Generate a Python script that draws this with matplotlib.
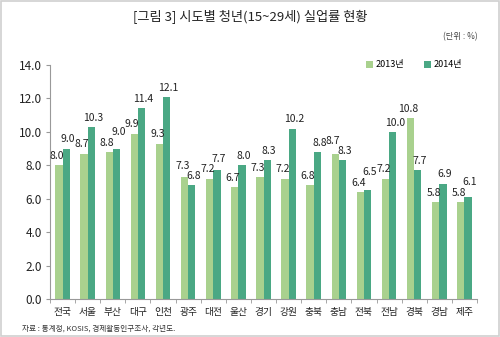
import matplotlib
matplotlib.use("Agg")
import matplotlib.pyplot as plt
import numpy as np
from matplotlib.patches import Rectangle

plt.rcParams['font.family'] = ['Noto Sans CJK KR', 'DejaVu Sans']

regions = ['전국', '서울', '부산', '대구', '인천', '광주', '대전', '울산', '경기',
           '강원', '충북', '충남', '전북', '전남', '경북', '경남', '제주']
v2013 = [8.0, 8.7, 8.8, 9.9, 9.3, 7.3, 7.2, 6.7, 7.3, 7.2, 6.8, 8.7, 6.4, 7.2, 10.8, 5.8, 5.8]
v2014 = [9.0, 10.3, 9.0, 11.4, 12.1, 6.8, 7.7, 8.0, 8.3, 10.2, 8.8, 8.3, 6.5, 10.0, 7.7, 6.9, 6.1]
series_names = ['2013년', '2014년']
yticks = [0, 2, 4, 6, 8, 10, 12, 14]

c1 = '#A9D18E'
c2 = '#4AA884'

fig = plt.figure(figsize=(5, 3.37), dpi=100)
fig.patch.set_facecolor('white')
fig.add_artist(Rectangle((0.002, 0.002), 0.996, 0.996, transform=fig.transFigure,
                         fill=False, edgecolor='#d0d0d0', linewidth=1.2))

ax = fig.add_axes([0.10, 0.113, 0.854, 0.694])
x = np.arange(len(regions))
w = 0.29
ax.bar(x - w/2, v2013, w, color=c1, label=series_names[0])
ax.bar(x + w/2, v2014, w, color=c2, label=series_names[1])

pad = 0.25
gap = 0.62
off = w/2 + 0.08
for xi, a, b in zip(x, v2013, v2014):
    ya, yb = a + pad, b + pad
    if abs(a - b) < gap:
        if b >= a:
            yb = max(yb, ya + gap)
        else:
            ya = max(ya, yb + gap)
    ax.text(xi - off, ya, f'{a:.1f}', ha='center', va='bottom', fontsize=7.5, color='#222222')
    ax.text(xi + off, yb, f'{b:.1f}', ha='center', va='bottom', fontsize=7.5, color='#222222')

ax.set_xlim(-0.5, len(regions) - 0.5)
ax.set_ylim(0, 14)
ax.set_yticks(yticks)
ax.set_yticklabels([f'{t:.1f}' for t in yticks], fontsize=8.5, color='#222222')
ax.set_xticks(x)
ax.set_xticklabels(regions, fontsize=7, color='#222222')
ax.set_xticks(np.arange(len(regions) + 1) - 0.5, minor=True)
ax.tick_params(axis='x', which='major', length=0, pad=6)
ax.tick_params(axis='x', which='minor', length=3, color='#999999')
ax.tick_params(axis='y', length=3, color='#999999', pad=3)
for s in ['top', 'right']:
    ax.spines[s].set_visible(False)
for s in ['left', 'bottom']:
    ax.spines[s].set_color('#999999')
    ax.spines[s].set_linewidth(0.8)

ax.legend(loc='upper right', bbox_to_anchor=(0.985, 1.055), ncol=2, frameon=False,
          fontsize=6.5, handlelength=0.8, handleheight=0.8, columnspacing=2.2, handletextpad=0.3)

fig.text(0.5, 0.95, '[그림 3] 시도별 청년(15~29세) 실업률 현황', ha='center', va='center',
         fontsize=9.5, color='#222222')
fig.text(0.955, 0.89, '(단위 : %)', ha='right', va='center', fontsize=6, color='#444444')
fig.text(0.045, 0.025, '자료 : 통계청, KOSIS, 경제활동인구조사, 각년도.', ha='left', va='center',
         fontsize=5.5, color='#333333')

fig.savefig('out.png', dpi=100, facecolor='white')
